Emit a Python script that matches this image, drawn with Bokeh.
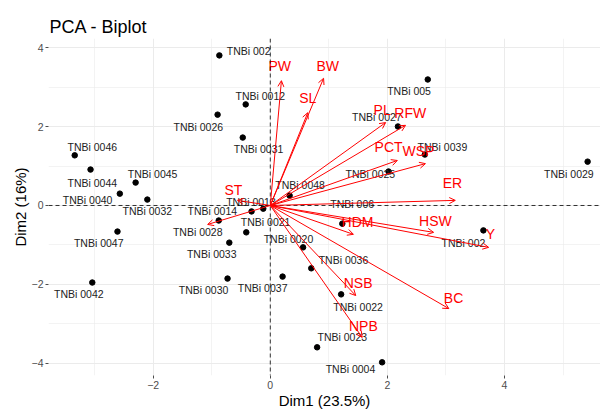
from bokeh.plotting import figure
from bokeh.models import ColumnDataSource, Arrow, OpenHead, Span, FixedTicker
from bokeh.core.properties import value
from bokeh.embed import file_html
from bokeh.resources import INLINE

# ---- individuals (PCA scores) ----
ind_names = ["TNBi 002", "TNBi 0012", "TNBi 0026", "TNBi 0031", "TNBi 0046", "TNBi 0044",
             "TNBi 0045", "TNBi 0040", "TNBi 0032", "TNBi 0014", "TNBi 0013", "TNBi 0048",
             "TNBi 0021", "TNBi 0028", "TNBi 0033", "TNBi 0047", "TNBi 0042", "TNBi 0030",
             "TNBi 0037", "TNBi 0020", "TNBi 0036", "TNBi 0022", "TNBi 0023", "TNBi 0004",
             "TNBi 002", "TNBi 006", "TNBi 0029", "TNBi 0025", "TNBi 0039", "TNBi 0027",
             "TNBi 005"]
ind_dim1 = [-0.87, -0.42, -0.90, -0.47, -3.34, -3.07, -2.30, -2.57, -2.10, -0.32, -0.12, 0.33,
            -0.41, -0.88, -0.70, -2.61, -3.04, -0.73, 0.21, 0.56, 0.70, 1.21, 0.80, 1.91,
            3.64, 1.23, 5.42, 2.02, 2.64, 2.18, 2.69]
ind_dim2 = [3.80, 2.56, 2.30, 1.72, 1.27, 0.91, 0.58, 0.30, 0.15, -0.15, -0.08, 0.25,
            -0.68, -0.38, -0.94, -0.66, -1.95, -1.85, -1.80, -1.06, -1.59, -2.25, -3.59, -3.97,
            -0.63, -0.46, 1.11, 0.86, 1.29, 2.00, 3.19]
# repelled label positions (data units)
ind_lab_x = [-0.37, -0.17, -1.23, -0.20, -3.04, -3.04, -2.01, -3.12, -2.10, -0.99, -0.33, 0.51,
             -0.08, -1.24, -1.00, -2.93, -3.27, -1.14, -0.13, 0.31, 1.25, 1.50, 1.23, 1.37,
             3.30, 1.40, 5.10, 1.71, 2.94, 1.82, 2.37]
ind_lab_y = [3.92, 2.78, 2.00, 1.42, 1.47, 0.58, 0.81, 0.13, -0.13, -0.13, 0.08, 0.51,
             -0.41, -0.68, -1.24, -0.96, -2.25, -2.15, -2.10, -0.86, -1.39, -2.58, -3.34, -4.13,
             -0.94, 0.03, 0.81, 0.81, 1.49, 2.23, 2.91]

# ---- variables (loadings, scaled) ----
var_names = ["PW", "BW", "SL", "PL", "RFW", "PCT", "WSP", "ER", "HSW", "Y", "BC", "NSB",
             "NPB", "HDM", "ST", ""]
var_dim1 = [0.19, 0.91, 0.64, 1.97, 2.31, 2.17, 2.65, 3.16, 2.79, 3.73, 3.05, 1.46,
            1.57, 1.42, -0.56, -1.07]
var_dim2 = [3.16, 3.22, 2.35, 2.10, 2.03, 1.14, 1.06, 0.13, -0.68, -1.06, -2.61, -2.28,
            -3.34, -0.73, 0.13, -0.48]
var_lab_x = [0.16, 0.98, 0.64, 1.91, 2.39, 2.02, 2.53, 3.11, 2.82, 3.76, 3.13, 1.50,
             1.59, 1.49, -0.63, -1.07]
var_lab_y = [3.52, 3.54, 2.71, 2.41, 2.35, 1.47, 1.39, 0.56, -0.38, -0.71, -2.35, -1.97,
             -3.06, -0.43, 0.38, -0.30]

x_ticks = [-2, 0, 2, 4]
y_ticks = [-4, -2, 0, 2, 4]
title_text = "PCA - Biplot"
x_label = "Dim1 (23.5%)"
y_label = "Dim2 (16%)"

FONT = "Liberation Sans"
RED = "#ff0000"

p = figure(width=600, height=411, x_range=(-3.788, 5.64), y_range=(-4.304, 4.228),
           output_backend="svg", toolbar_location=None,
           min_border_left=48, min_border_right=0, min_border_top=38, min_border_bottom=36)
p.outline_line_color = None
p.background_fill_color = "white"

p.title.text = title_text
p.title.text_font = FONT
p.title.text_font_size = "18px"
p.title.text_font_style = "normal"
p.title.text_color = "black"
p.title.offset = 1
p.title.standoff = 4

for ax, ticks, lab in ((p.xaxis[0], x_ticks, x_label), (p.yaxis[0], y_ticks, y_label)):
    ax.ticker = FixedTicker(ticks=ticks, minor_ticks=[t + 1 for t in ticks] + [ticks[0] - 1])
    ax.axis_line_color = None
    ax.major_tick_line_color = "#4d4d4d"
    ax.major_tick_in = 0
    ax.major_tick_out = 3
    ax.minor_tick_line_color = None
    ax.major_label_text_font = FONT
    ax.major_label_text_font_size = "10.5px"
    ax.major_label_text_color = "#4d4d4d"
    ax.major_label_standoff = 1
    ax.axis_label = lab
    ax.axis_label_text_font = FONT
    ax.axis_label_text_font_size = "15px"
    ax.axis_label_text_font_style = "normal"
    ax.axis_label_text_color = "black"
    ax.axis_label_standoff = 0

for g in (p.xgrid[0], p.ygrid[0]):
    g.grid_line_color = "#ebebeb"
    g.grid_line_width = 1
    g.minor_grid_line_color = "#ebebeb"
    g.minor_grid_line_width = 0.6

p.add_layout(Span(location=0, dimension="width", line_color="black", line_dash="4 3", line_width=0.8))
p.add_layout(Span(location=0, dimension="height", line_color="black", line_dash="4 3", line_width=0.8))

ind_src = ColumnDataSource(dict(x=ind_dim1, y=ind_dim2, lx=ind_lab_x, ly=ind_lab_y, name=ind_names))
var_src = ColumnDataSource(dict(x0=[0] * len(var_dim1), y0=[0] * len(var_dim1),
                                x=var_dim1, y=var_dim2, lx=var_lab_x, ly=var_lab_y, name=var_names))

p.scatter("x", "y", source=ind_src, size=5.5, color="black")
p.text("lx", "ly", text="name", source=ind_src, text_font=value(FONT), text_font_size="10.5px",
       text_color="#222222", text_align="center", text_baseline="middle")

p.add_layout(Arrow(end=OpenHead(size=6, line_color=RED, line_width=1),
                   x_start="x0", y_start="y0", x_end="x", y_end="y",
                   line_color=RED, line_width=1, source=var_src))
p.text("lx", "ly", text="name", source=var_src, text_font=value(FONT), text_font_size="14px",
       text_color=RED, text_align="center", text_baseline="middle")

open("out.html", "w").write(file_html(p, INLINE))
